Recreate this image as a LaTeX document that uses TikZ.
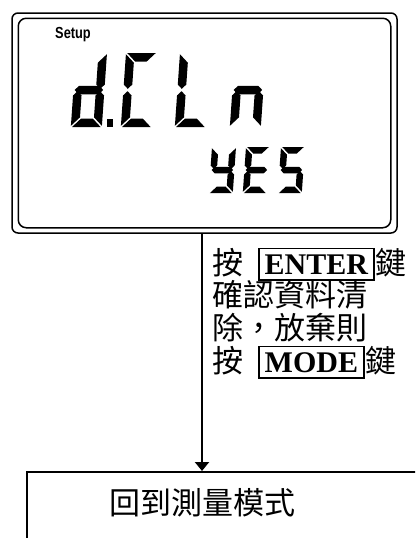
\documentclass[tikz,border=0pt]{standalone}
\usepackage{fontspec}
\usepackage{tikz}
\usetikzlibrary{arrows.meta}
\setmainfont{Liberation Serif}
\newfontfamily\cjk{Noto Sans CJK TC}
\newfontfamily\lcdfont{Liberation Sans}

% seven segment pieces, local box (0,0) top left, y downwards
\newcommand\dg{1.2}
\newcommand\lcdsega{\fill ({\dg},0) -- ({\dw-\dg},0) -- ({\dw-\dg-\dt},{\dt}) -- ({\dg+\dt},{\dt}) -- cycle;}
\newcommand\lcdsegd{\fill ({\dg},{\dh}) -- ({\dw-\dg},{\dh}) -- ({\dw-\dg-\dt},{\dh-\dt}) -- ({\dg+\dt},{\dh-\dt}) -- cycle;}
\newcommand\lcdsegg{\fill ({\dg},{\dh/2}) -- ({\dg+\dt/2},{\dh/2-\dt/2}) -- ({\dw-\dg-\dt/2},{\dh/2-\dt/2}) -- ({\dw-\dg},{\dh/2}) -- ({\dw-\dg-\dt/2},{\dh/2+\dt/2}) -- ({\dg+\dt/2},{\dh/2+\dt/2}) -- cycle;}
\newcommand\lcdsegf{\fill (0,{\dg}) -- ({\dt},{\dg+\dt}) -- ({\dt},{\dh/2-\dg-\dt/2}) -- ({\dt/2},{\dh/2-\dg}) -- (0,{\dh/2-\dg-\dt/2}) -- cycle;}
\newcommand\lcdsege{\fill (0,{\dh-\dg}) -- ({\dt},{\dh-\dg-\dt}) -- ({\dt},{\dh/2+\dg+\dt/2}) -- ({\dt/2},{\dh/2+\dg}) -- (0,{\dh/2+\dg+\dt/2}) -- cycle;}
\newcommand\lcdsegb{\fill ({\dw},{\dg}) -- ({\dw-\dt},{\dg+\dt}) -- ({\dw-\dt},{\dh/2-\dg-\dt/2}) -- ({\dw-\dt/2},{\dh/2-\dg}) -- ({\dw},{\dh/2-\dg-\dt/2}) -- cycle;}
\newcommand\lcdsegc{\fill ({\dw},{\dh-\dg}) -- ({\dw-\dt},{\dh-\dg-\dt}) -- ({\dw-\dt},{\dh/2+\dg+\dt/2}) -- ({\dw-\dt/2},{\dh/2+\dg}) -- ({\dw},{\dh/2+\dg+\dt/2}) -- cycle;}

% #1,#2 top left, #3 width, #4 height, #5 thickness, #6 segments
\newcommand{\lcdchar}[6]{%
  \begin{scope}[shift={(#1,#2)},xslant=0.07]
    \def\dw{#3}\def\dh{#4}\def\dt{#5}
    \foreach \s in {#6} {\csname lcdseg\s\endcsname}
  \end{scope}}

\newcommand{\keybox}[1]{{\setlength\fboxsep{5pt}\setlength\fboxrule{1.5pt}\fbox{\rmfamily\bfseries\fontsize{30}{30}\selectfont #1}}}

\begin{document}
\begin{tikzpicture}
    [x=1pt,y=-1pt,>={Triangle[width=14pt,length=9pt]},
      lcdframe/.style={draw,line width=1.5pt,rounded corners=6pt,minimum width=385pt,minimum height=220pt,inner sep=0pt},
      modebox/.style={draw,line width=1.5pt,anchor=north west,minimum width=420pt,minimum height=100pt,inner sep=0pt},
      hint/.style={anchor=base west,inner sep=0pt,font=\cjk\fontsize{31}{31}\selectfont},
      arr/.style={->,line width=2pt}]
      \useasboundingbox (0,0) rectangle (415,538);
      \clip (0,0) rectangle (415,538);

      \node (lcd) [lcdframe] at (204.5,123) {};
      \draw[line width=1.5pt,rounded corners=8pt] ([shift={(7,6)}]lcd.north west) rectangle ([shift={(-7,-6)}]lcd.south east);
      \node (setup) at (73,35) {\lcdfont\fontsize{16}{16}\selectfont\bfseries\scalebox{0.8}[1]{Setup}};

      % d.CLn
      \lcdchar{76}{53}{31}{74}{8.5}{b,c,d,e,g}
      \fill (107,119) rectangle (113,127);
      \lcdchar{126}{53}{31}{74}{8.5}{a,d,e,f}
      \lcdchar{180}{53}{31}{74}{8.5}{d,e,f}
      \lcdchar{235}{53}{31}{74}{8.5}{c,e,g}
      % YES
      \lcdchar{212}{147}{24}{46}{6.5}{b,c,d,f,g}
      \lcdchar{246}{147}{24}{46}{6.5}{a,d,e,f,g}
      \lcdchar{281}{147}{24}{46}{6.5}{a,c,d,f,g}

      \node (hint1) [hint] at (212,274) {按\hspace{15pt}\keybox{ENTER}\hspace{1pt}鍵};
      \node (hint2) [hint] at (212,306.7) {確認資料清};
      \node (hint3) [hint] at (212,339.4) {除，放棄則};
      \node (hint4) [hint] at (212,372) {按\hspace{15pt}\keybox{MODE}\hspace{1pt}鍵};

      \node (mode) [modebox] at (26,471) {};
      \node (modetxt) at (202,503) {\cjk\fontsize{31}{31}\selectfont 回到測量模式};

      \draw[arr] (lcd.south -| modetxt) -- (mode.north -| modetxt);
    \end{tikzpicture}
\end{document}
